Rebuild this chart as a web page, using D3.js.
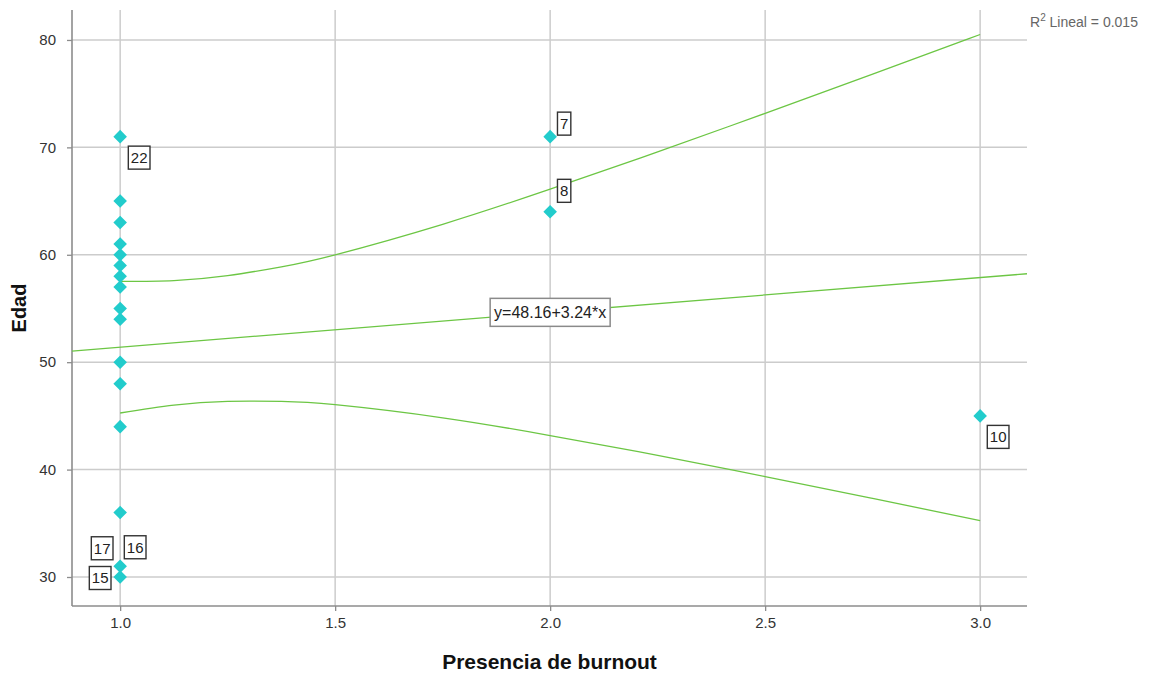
<!DOCTYPE html>
<html>
<head>
<meta charset="utf-8">
<script src="https://cdn.jsdelivr.net/npm/d3@7"></script>
<style>
  body { margin: 0; background: #fff; }
  svg { font-family: "Liberation Sans", Arial, sans-serif; }
</style>
</head>
<body>
<svg id="chart" width="1153" height="675"></svg>
<script>
// datos
const burnout = [1, 1, 1, 1, 1, 1, 1, 1, 1, 1, 1, 1, 1, 1, 1, 1, 2, 2, 3];
const edad = [71, 65, 63, 61, 60, 59, 58, 57, 55, 54, 50, 48, 44, 36, 31, 30, 71, 64, 45];

const labelCases = [22, 7, 8, 10, 17, 16, 15];
const labelX = [1, 2, 2, 3, 1, 1, 1];
const labelY = [71, 71, 64, 45, 31, 31, 30];

// recta de ajuste
const fitIntercept = 48.16;
const fitSlope = 3.24;
const rSquared = 0.015;

// banda de confianza (leida)
const bandX = [1.0, 1.125, 1.25, 1.375, 1.5, 1.75, 2.0, 2.25, 2.5, 2.75, 3.0];
const bandUpper = [57.53, 57.6, 58.06, 58.88, 60.0, 62.84, 66.11, 69.58, 73.17, 76.82, 80.51];
const bandLower = [45.27, 46.01, 46.36, 46.35, 46.04, 44.82, 43.17, 41.32, 39.35, 37.32, 35.25];

const xTicks = [1.0, 1.5, 2.0, 2.5, 3.0];
const yTicks = [30, 40, 50, 60, 70, 80];

const margin = { top: 10, bottom: 69, left: 72, right: 126 };
const width = 1153, height = 675;

const svg = d3.select("#chart");

const xScale = d3.scaleLinear()
    .domain([0.888, 3.109])
    .range([margin.left, width - margin.right]);
const yScale = d3.scaleLinear()
    .domain([27.3, 82.79])
    .range([height - margin.bottom, margin.top]);

const gridColor = "#cccccc";
const axisColor = "#8c8c8c";
const fitColor = "#6cc644";
const pointColor = "#22cccc";

// rejilla
svg.append("g").selectAll("line").data(xTicks).join("line")
    .attr("x1", d => xScale(d)).attr("x2", d => xScale(d))
    .attr("y1", margin.top).attr("y2", height - margin.bottom)
    .attr("stroke", gridColor).attr("stroke-width", 1.5);
svg.append("g").selectAll("line").data(yTicks).join("line")
    .attr("x1", margin.left).attr("x2", width - margin.right)
    .attr("y1", d => yScale(d)).attr("y2", d => yScale(d))
    .attr("stroke", gridColor).attr("stroke-width", 1.5);

// ejes
let x_axis = d3.axisBottom(xScale).tickValues(xTicks).tickFormat(d3.format(".1f")).tickSize(5).tickPadding(6);
let g_x = svg.append("g")
    .attr("transform", "translate(0," + (height - margin.bottom) + ")")
    .call(x_axis);
let y_axis = d3.axisLeft(yScale).tickValues(yTicks).tickSize(5).tickPadding(11);
let g_y = svg.append("g")
    .attr("transform", "translate(" + margin.left + ",0)")
    .call(y_axis);

[g_x, g_y].forEach(g => {
    g.select(".domain").attr("stroke", axisColor).attr("stroke-width", 1.6);
    g.selectAll(".tick line").attr("stroke", axisColor).attr("stroke-width", 1.3);
    g.selectAll(".tick text").attr("fill", "#333").attr("font-size", "15px")
        .attr("font-family", "'Liberation Sans', Arial, sans-serif");
});
// quitar los extremos del dominio
g_x.select(".domain").attr("d", `M${margin.left},0H${width - margin.right}`);
g_y.select(".domain").attr("d", `M0,${margin.top}V${height - margin.bottom}`);

// banda de confianza
const bandLine = d3.line().curve(d3.curveNatural)
    .x(d => xScale(d[0])).y(d => yScale(d[1]));
svg.append("path")
    .datum(bandX.map((x, i) => [x, bandUpper[i]]))
    .attr("d", bandLine).attr("fill", "none")
    .attr("stroke", fitColor).attr("stroke-width", 1.3);
svg.append("path")
    .datum(bandX.map((x, i) => [x, bandLower[i]]))
    .attr("d", bandLine).attr("fill", "none")
    .attr("stroke", fitColor).attr("stroke-width", 1.3);

// recta de regresion
const xDom = xScale.domain();
svg.append("line")
    .attr("x1", xScale(xDom[0])).attr("y1", yScale(fitIntercept + fitSlope * xDom[0]))
    .attr("x2", xScale(xDom[1])).attr("y2", yScale(fitIntercept + fitSlope * xDom[1]))
    .attr("stroke", fitColor).attr("stroke-width", 1.3);

// puntos (rombos)
const diamond = d3.symbol().type(d3.symbolSquare).size(92);
svg.append("g").selectAll("path").data(burnout.map((b, i) => [b, edad[i]])).join("path")
    .attr("d", diamond)
    .attr("transform", d => `translate(${xScale(d[0])},${yScale(d[1])}) rotate(45)`)
    .attr("fill", pointColor);

// ecuacion
const eqX = 2.0;
const eqG = svg.append("g")
    .attr("transform", `translate(${xScale(eqX)},${yScale(fitIntercept + fitSlope * eqX)})`);
eqG.append("rect")
    .attr("x", -60).attr("y", -14).attr("width", 120).attr("height", 28)
    .attr("fill", "#fff").attr("stroke", "#8a8a8a").attr("stroke-width", 1.5);
eqG.append("text")
    .attr("text-anchor", "middle").attr("dy", "0.36em")
    .attr("font-size", "16px").attr("fill", "#222")
    .text(`y=${fitIntercept.toFixed(2)}+${fitSlope.toFixed(2)}*x`);

// etiquetas de casos
const labelOffsets = { 22: [19, 21], 7: [14, -13], 8: [14, -21], 10: [18, 21], 17: [-18, -18], 16: [15, -19], 15: [-20, 1] };
labelCases.forEach((c, i) => {
    const off = labelOffsets[c];
    const g = svg.append("g")
        .attr("transform", `translate(${xScale(labelX[i]) + off[0]},${yScale(labelY[i]) + off[1]})`);
    const t = g.append("text")
        .attr("text-anchor", "middle").attr("dy", "0.36em")
        .attr("font-size", "15px").attr("fill", "#222")
        .text(c);
    const w = t.node().getComputedTextLength() + 5;
    g.insert("rect", "text")
        .attr("x", -w / 2).attr("y", -11.5).attr("width", w).attr("height", 23)
        .attr("fill", "#fff").attr("stroke", "#333").attr("stroke-width", 1.4);
});

// R2
const r2 = svg.append("text")
    .attr("x", width - margin.right + 3).attr("y", 27)
    .attr("font-size", "14px").attr("fill", "#666");
r2.append("tspan").text("R");
r2.append("tspan").attr("dy", -6).attr("font-size", "10px").text("2");
r2.append("tspan").attr("dy", 6).text(` Lineal = ${rSquared.toFixed(3)}`);

// titulos de ejes
svg.append("text")
    .attr("x", (margin.left + width - margin.right) / 2)
    .attr("y", height - 6)
    .attr("text-anchor", "middle")
    .attr("font-size", "21px").attr("font-weight", "bold").attr("fill", "#111")
    .text("Presencia de burnout");

svg.append("text")
    .attr("transform", `translate(26,${(margin.top + height - margin.bottom) / 2}) rotate(-90)`)
    .attr("text-anchor", "middle")
    .attr("font-size", "20px").attr("font-weight", "bold").attr("fill", "#111")
    .text("Edad");
</script>
</body>
</html>
